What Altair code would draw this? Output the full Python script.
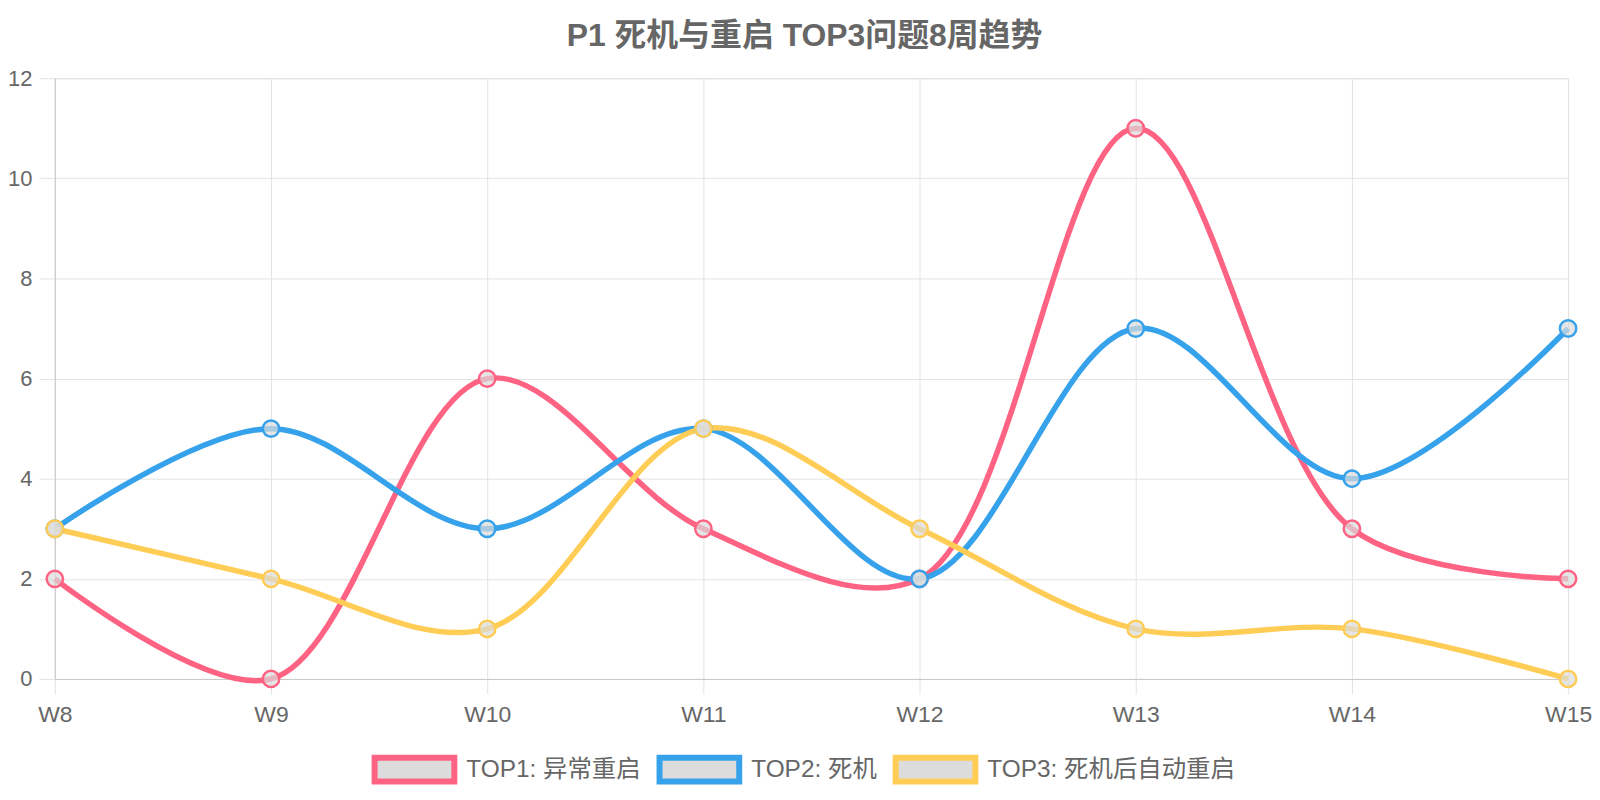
import altair as alt
import pandas as pd

weeks = ["W8", "W9", "W10", "W11", "W12", "W13", "W14", "W15"]
series_names = ["TOP1: 异常重启", "TOP2: 死机", "TOP3: 死机后自动重启"]
top1 = [2, 0, 6, 3, 2, 11, 3, 2]
top2 = [3, 5, 3, 5, 2, 7, 4, 7]
top3 = [3, 2, 1, 5, 3, 1, 1, 0]
colors = ["#FF6384", "#36A2EB", "#FFCD56"]
title_text = "P1 死机与重启 TOP3问题8周趋势"

rows = []
for name, vals in zip(series_names, [top1, top2, top3]):
    for i, (w, v) in enumerate(zip(weeks, vals)):
        rows.append({"week": w, "idx": i, "value": v, "series": name})
df = pd.DataFrame(rows)

FONT = "Liberation Sans, Arial, Noto Sans CJK SC"
grid = "#e3e3e3"
domain_c = "#c8c8c8"

legend = alt.Legend(
    title=None,
    orient="none",
    legendX=318,
    legendY=651,
    direction="horizontal",
    symbolType="M-1,-0.3H1V0.3H-1Z",
    symbolSize=6400,
    symbolStrokeWidth=6,
    symbolFillColor="#e5e5e5",
    symbolOpacity=1,
    labelFontSize=24.5,
    labelColor="#666666",
    labelFont=FONT,
    labelOffset=9,
    labelLimit=500,
    columnPadding=6,
)

stroke_scale = alt.Scale(domain=series_names, range=colors)

x_enc = alt.X(
    "week:N",
    sort=weeks,
    scale=alt.Scale(type="point", padding=0),
    axis=alt.Axis(
        title=None,
        labelAngle=0,
        labelFontSize=23,
        labelColor="#666666",
        labelFont=FONT,
        labelPadding=10,
        tickSize=15,
        tickColor=grid,
        domainColor=domain_c,
        gridColor=grid,
        grid=True,
    ),
)
y_enc = alt.Y(
    "value:Q",
    scale=alt.Scale(domain=[0, 12], nice=False),
    axis=alt.Axis(
        title=None,
        values=[0, 2, 4, 6, 8, 10, 12],
        labelFontSize=22,
        labelColor="#666666",
        labelFont=FONT,
        labelPadding=7,
        tickSize=16,
        tickColor=grid,
        domainColor=domain_c,
        gridColor=grid,
        grid=True,
    ),
)

lines = alt.Chart(df).mark_line(
    interpolate="catmull-rom", strokeWidth=5.5
).encode(
    x=x_enc,
    y=y_enc,
    stroke=alt.Stroke("series:N", scale=stroke_scale, legend=legend),
    order=alt.Order("idx:Q"),
)

points = alt.Chart(df).mark_point(
    shape="circle", filled=True, fill="#dcdcdc", fillOpacity=0.7,
    size=270, strokeWidth=2.5, opacity=1
).encode(
    x=x_enc,
    y=y_enc,
    stroke=alt.Stroke("series:N", scale=stroke_scale, legend=legend),
)

chart = alt.layer(lines, points).properties(
    width=1519,
    height=603,
    autosize=alt.AutoSizeParams(type="none"),
    padding={"left": 47, "top": 69, "right": 24, "bottom": 110},
    title=alt.TitleParams(
        title_text,
        fontSize=32,
        fontWeight="bold",
        color="#666666",
        font=FONT,
        anchor="middle",
        dx=-7,
        offset=14,
    ),
).configure_view(stroke=None).configure(background="white")

chart.save("out.html", embed_options={"renderer": "svg", "actions": False})
